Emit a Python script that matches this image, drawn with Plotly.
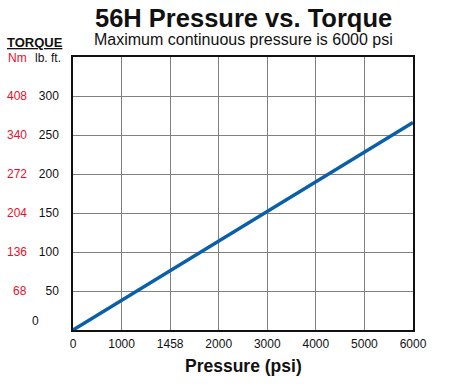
import plotly.graph_objects as go

# Data
pressure_psi = [0, 6000]
torque_lbft = [0, 266]
x_tick_labels = ["0", "1000", "1458", "2000", "3000", "4000", "5000", "6000"]
y_ticks_lbft = [50, 100, 150, 200, 250, 300]
y_ticks_nm = ["68", "136", "204", "272", "340", "408"]

RED = "#e8102a"
BLUE = "#0a5fa8"
FONT = "Liberation Sans, Arial, sans-serif"

n_int = len(x_tick_labels) - 1
x_tick_vals = [6000 * i / n_int for i in range(len(x_tick_labels))]

fig = go.Figure()
fig.add_trace(go.Scatter(x=pressure_psi, y=torque_lbft, mode="lines",
                         line=dict(color=BLUE, width=3.5), showlegend=False,
                         hoverinfo="skip"))

fig.update_layout(
    width=452, height=386,
    margin=dict(l=73, r=39, t=57, b=56, autoexpand=False),
    paper_bgcolor="white", plot_bgcolor="white",
    font=dict(family=FONT, color="#111111", size=12),
    xaxis=dict(range=[0, 6000], tickvals=x_tick_vals, ticktext=x_tick_labels,
               showgrid=True, gridcolor="#808080", gridwidth=1,
               showline=True, linecolor="#111111", linewidth=1.5, mirror=True,
               zeroline=False, ticks="", ticklabelstandoff=2,
               tickfont=dict(size=12, color="#111111")),
    yaxis=dict(range=[0, 350], tickvals=y_ticks_lbft,
               showgrid=True, gridcolor="#808080", gridwidth=1,
               showline=True, linecolor="#111111", linewidth=1.5, mirror=True,
               zeroline=False, ticks="", ticklabelstandoff=10,
               tickfont=dict(size=12, color="#111111")),
)

ann = []
for v, t in zip(y_ticks_lbft, y_ticks_nm):
    ann.append(dict(x=0, xref="paper", y=v, yref="y", text=t, showarrow=False,
                    xanchor="right", yanchor="middle", xshift=29 - 73,
                    font=dict(size=12, color=RED, family=FONT)))
ann.append(dict(x=0, xref="paper", y=0, yref="y", text="0", showarrow=False,
                xanchor="center", yanchor="middle", xshift=35 - 73, yshift=9,
                font=dict(size=12, color="#111111", family=FONT)))
# headers
ann.append(dict(x=0, xref="paper", y=1, yref="paper", text="<b><u>TORQUE</u></b>",
                showarrow=False, xanchor="center", yanchor="middle",
                xshift=35 - 73, yshift=57 - 42,
                font=dict(size=13, color="#111111", family=FONT)))
ann.append(dict(x=0, xref="paper", y=1, yref="paper", text="Nm",
                showarrow=False, xanchor="center", yanchor="middle",
                xshift=17 - 73, yshift=57 - 58,
                font=dict(size=12, color=RED, family=FONT)))
ann.append(dict(x=0, xref="paper", y=1, yref="paper", text="lb. ft.",
                showarrow=False, xanchor="right", yanchor="middle",
                xshift=63 - 73, yshift=57 - 58,
                font=dict(size=12, color="#111111", family=FONT)))
# title and subtitle
ann.append(dict(x=0.5, xref="paper", y=1, yref="paper", text="<b>56H Pressure vs. Torque</b>",
                showarrow=False, xanchor="center", yanchor="middle",
                yshift=57 - 18,
                font=dict(size=25.5, color="#111111", family=FONT)))
ann.append(dict(x=0.5, xref="paper", y=1, yref="paper", text="Maximum continuous pressure is 6000 psi",
                showarrow=False, xanchor="center", yanchor="middle",
                yshift=57 - 39,
                font=dict(size=16, color="#111111", family=FONT)))
ann.append(dict(x=0.5, xref="paper", y=0, yref="paper", text="<b>Pressure (psi)</b>",
                showarrow=False, xanchor="center", yanchor="middle",
                yshift=-(366 - 330),
                font=dict(size=17.5, color="#111111", family=FONT)))
fig.update_layout(annotations=ann)

fig.write_html("out.html", config={"displayModeBar": False},
               post_script="document.body.style.margin='0';")
